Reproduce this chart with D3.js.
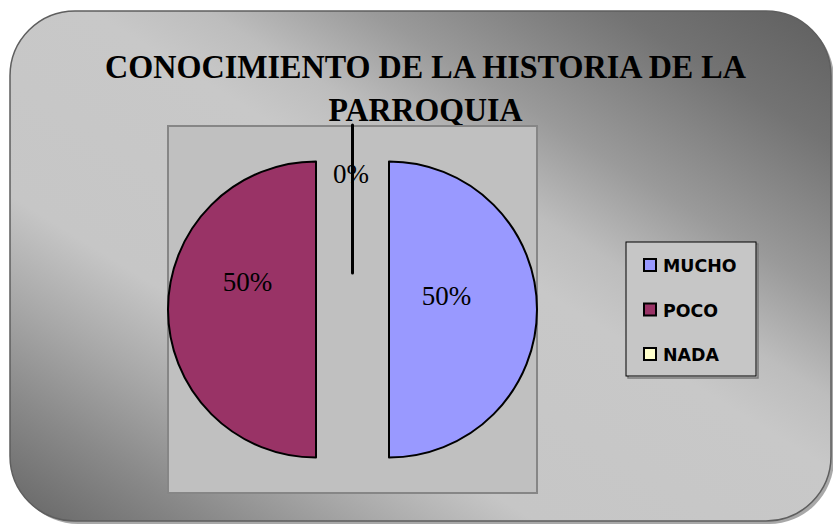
<!DOCTYPE html>
<html>
<head>
<meta charset="utf-8">
<script src="https://cdn.jsdelivr.net/npm/d3@7"></script>
<style>
  body { margin: 0; background: #ffffff; }
</style>
</head>
<body>
<div class="canvas"></div>
<script>
const categories = ['MUCHO', 'POCO', 'NADA'];
const values = [50, 50, 0];
const labels = ['50%', '50%', '0%'];
const colors = ['#9999ff', '#993366', '#ffffcc'];
const titleLines = ['CONOCIMIENTO DE LA HISTORIA DE LA', 'PARROQUIA'];

class PieDiagram {
  constructor(selector, w, h) {
    this.w = w;
    this.h = h;
    this.svg = selector.html('')
                .append('svg')
                .attr('width', this.w)
                .attr('height', this.h);
    this.defs = this.svg.append('defs');
    this.serif = '"Liberation Serif", "Times New Roman", serif';
  }

  drawCard() {
    let grad = this.defs.append('linearGradient')
                  .attr('id', 'cardGrad')
                  .attr('gradientUnits', 'userSpaceOnUse')
                  .attr('x1', 648).attr('y1', -102)
                  .attr('x2', 192).attr('y2', 634);
    [[0, '#5f5f5f'], [0.13, '#737373'], [0.28, '#9a9a9a'], [0.38, '#bdbdbd'], [0.45, '#c8c8c8'],
     [0.68, '#c6c6c6'], [0.78, '#a8a8a8'], [0.875, '#8a8a8a'], [0.97, '#6e6e6e'], [1, '#686868']]
      .forEach(s => grad.append('stop').attr('offset', s[0]).attr('stop-color', s[1]));

    //shadow
    this.svg.append('rect')
            .attr('x', 13).attr('y', 14)
            .attr('width', 821).attr('height', 510)
            .attr('rx', 65).attr('ry', 65)
            .attr('fill', '#a8a8a8');
    this.svg.append('rect')
            .attr('x', 10).attr('y', 11)
            .attr('width', 821).attr('height', 510)
            .attr('rx', 65).attr('ry', 65)
            .attr('fill', 'url(#cardGrad)')
            .attr('stroke', '#5e5e5e')
            .attr('stroke-width', 1.5);

    //title, two lines squeezed a bit like the original
    let widths = [641, 194];
    titleLines.forEach((t, i) => {
      this.svg.append('text')
              .attr('x', 425.5)
              .attr('y', 78 + i*43)
              .attr('text-anchor', 'middle')
              .attr('font-family', this.serif)
              .attr('font-weight', 'bold')
              .attr('font-size', 34)
              .attr('textLength', widths[i])
              .attr('lengthAdjust', 'spacingAndGlyphs')
              .attr('fill', '#000')
              .text(t);
    });
  }

  drawPie() {
    //plot area
    let plot = {x: 168, y: 126, w: 369, h: 367};
    this.svg.append('rect')
            .attr('x', plot.x).attr('y', plot.y)
            .attr('width', plot.w).attr('height', plot.h)
            .attr('fill', '#c0c0c0')
            .attr('stroke', '#868686')
            .attr('stroke-width', 2);

    let cx = plot.x + plot.w/2;
    let cy = plot.y + plot.h/2;
    let r = 148;
    let explode = 36.5;

    let pie = d3.pie().sort(null).value(d => d);
    let arcs = pie(values);
    let arc = d3.arc().innerRadius(0).outerRadius(r);

    let g = this.svg.append('g').attr('class', 'pie');
    // hand nudges so the labels sit where the original placed them
    let labelNudge = [[-9, -14], [-2, -28], [-1.5, -10]];

    arcs.forEach((a, i) => {
      let mid = (a.startAngle + a.endAngle)/2;
      let ox = cx + Math.sin(mid)*explode;
      let oy = cy - Math.cos(mid)*explode;
      let slice = g.append('g').attr('transform', `translate(${ox},${oy})`);
      slice.append('path')
           .attr('d', arc(a))
           .attr('fill', colors[i])
           .attr('stroke', '#000')
           .attr('stroke-width', a.endAngle - a.startAngle > 0 ? 2 : 3)
           .attr('stroke-linejoin', 'round');

      let lr = a.endAngle - a.startAngle > 0 ? r*0.45 : r*0.6;
      let lx = Math.sin(mid)*lr + labelNudge[i][0];
      let ly = -Math.cos(mid)*lr + labelNudge[i][1];
      slice.append('text')
           .attr('x', lx)
           .attr('y', ly + 9)
           .attr('text-anchor', 'middle')
           .attr('font-family', this.serif)
           .attr('font-size', 27)
           .attr('fill', '#000')
           .text(labels[i]);
    });
  }

  drawLegend() {
    let box = {x: 626, y: 242, w: 130, h: 134};
    let legend = this.svg.append('g').attr('class', 'legend');
    legend.append('rect')
          .attr('x', box.x + 2).attr('y', box.y + 2)
          .attr('width', box.w).attr('height', box.h)
          .attr('fill', 'none')
          .attr('stroke', '#7a7a7a')
          .attr('stroke-width', 1.5);
    legend.append('rect')
          .attr('x', box.x).attr('y', box.y)
          .attr('width', box.w).attr('height', box.h)
          .attr('fill', '#c6c6c6')
          .attr('stroke', '#000')
          .attr('stroke-width', 1);

    let yScale = d3.scalePoint()
                   .domain(categories)
                   .range([box.y + 23, box.y + 112]);

    categories.forEach((c, i) => {
      let y = yScale(c);
      legend.append('rect')
            .attr('x', 644).attr('y', y - 6)
            .attr('width', 12).attr('height', 12)
            .attr('fill', colors[i])
            .attr('stroke', '#000')
            .attr('stroke-width', 2);
      legend.append('text')
            .attr('x', 663)
            .attr('y', y + 7)
            .attr('font-family', '"DejaVu Sans", sans-serif')
            .attr('font-weight', 'bold')
            .attr('font-size', 17.4)
            .attr('fill', '#000')
            .text(c);
    });
  }
}

let diagram = new PieDiagram(d3.select('.canvas'), 833, 525);
diagram.drawCard();
diagram.drawPie();
diagram.drawLegend();
</script>
</body>
</html>
